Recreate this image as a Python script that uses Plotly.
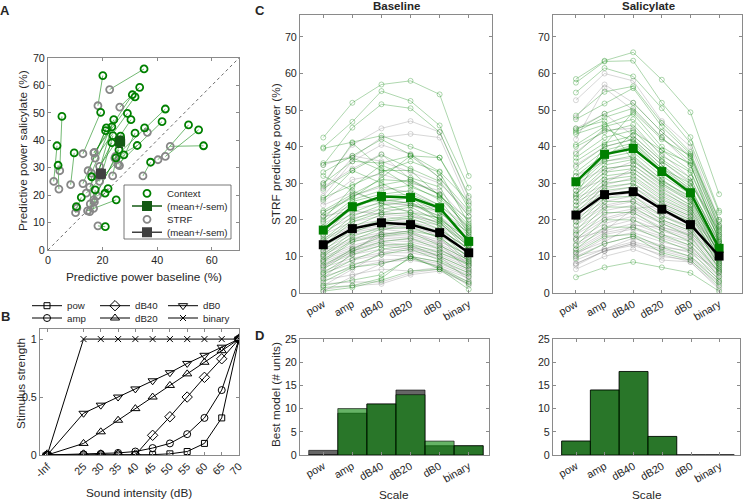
import math
import plotly.graph_objects as go

W, H = 745, 503
FONT = "Liberation Sans, Arial, Helvetica, sans-serif"
TXT = "#262626"
AXC = "#8a8a8a"
GREEN = "rgb(0,128,0)"

# ---------------- Panel A: predictive power baseline vs salicylate ----------------
ctx_base = [35.2, 20.1, 33.6, 30.9, 31.9, 5.1, 19.3, 29.1, 43.0, 30.4, 24.1, 41.8, 21.4,
            23.4, 21.1, 35.4, 51.5, 55.2, 23.8, 26.6, 31.9, 23.4, 57.0, 3.3, 32.7, 9.6,
            26.0, 27.8, 24.9, 3.7, 37.6, 16.0, 12.2, 17.3, 22.0, 20.9, 10.4, 25.0, 21.0]
ctx_sal = [66.0, 63.6, 59.3, 56.6, 55.8, 48.7, 50.2, 49.8, 51.4, 47.5, 47.5, 46.8, 44.5,
           44.9, 43.5, 44.5, 45.6, 43.8, 41.7, 41.5, 42.6, 39.1, 38.0, 38.0, 38.1, 35.4,
           36.5, 34.7, 33.6, 30.9, 32.0, 26.7, 19.2, 21.9, 22.4, 20.7, 15.8, 18.3, 8.5]
strf_base = [22.6, 18.3, 26.3, 17.0, 16.8, 4.3, 12.8, 17.3, 24.8, 18.9, 15.9, 25.6, 14.7,
             18.1, 12.8, 36.4, 40.3, 43.0, 18.9, 23.7, 26.2, 15.3, 44.8, 2.1, 24.5, 8.3,
             16.8, 14.0, 15.5, 4.0, 34.8, 15.3, 10.6, 16.7, 18.0, 17.0, 10.1, 14.5, 18.3]
strf_sal = [58.5, 52.6, 52.1, 35.6, 35.4, 28.9, 35.1, 33.5, 34.1, 30.5, 28.0, 31.2, 28.9,
            26.8, 24.2, 42.9, 32.9, 34.1, 25.0, 27.0, 30.8, 22.9, 37.8, 25.0, 33.5, 23.8,
            18.3, 20.7, 16.8, 22.2, 27.0, 14.0, 15.3, 15.2, 19.7, 17.5, 13.6, 14.3, 8.8]
ctx_mean = [26.4, 39.5]
ctx_sem = [1.6, 2.0]
strf_mean = [19.4, 27.8]
strf_sem = [1.4, 1.6]
A_lim = [0, 70]

# ---------------- Panel B: stimulus strength transforms ----------------
intensity_db = [-math.inf, 25, 30, 35, 40, 45, 50, 55, 60, 65, 70]
intensity_labels = ["-Inf", "25", "30", "35", "40", "45", "50", "55", "60", "65", "70"]
s_pow = [0, 0.00003, 0.0001, 0.0003, 0.001, 0.003, 0.01, 0.03, 0.10, 0.32, 1.0]
s_amp = [0, 0.006, 0.01, 0.018, 0.03, 0.06, 0.10, 0.18, 0.32, 0.56, 1.0]
s_db40 = [0, 0, 0, 0, 0, 0.17, 0.33, 0.50, 0.67, 0.83, 1.0]
s_db20 = [0, 0.10, 0.20, 0.30, 0.40, 0.50, 0.60, 0.70, 0.80, 0.90, 1.0]
s_db0 = [0, 0.36, 0.43, 0.50, 0.57, 0.64, 0.71, 0.79, 0.86, 0.93, 1.0]
s_binary = [0, 1, 1, 1, 1, 1, 1, 1, 1, 1, 1]
NEG_INF_AT = 14.5  # where -Inf is drawn on the dB axis

# ---------------- Panel C: per-unit predictive power by scale ----------------
scale_names = ["pow", "amp", "dB40", "dB20", "dB0", "binary"]

base_ctx = [
    [42.5, 52.0, 57.0, 58.0, 54.3, 32.0], [39.8, 46.8, 55.2, 52.5, 45.8, 28.8],
    [35.0, 45.2, 51.6, 50.5, 44.0, 26.5], [39.5, 41.2, 43.0, 40.0, 37.0, 24.0],
    [33.0, 37.5, 42.0, 37.8, 33.2, 25.0], [30.0, 36.0, 35.5, 37.5, 31.5, 22.5],
    [28.5, 33.5, 37.8, 34.0, 30.5, 21.0], [26.0, 29.5, 33.0, 36.0, 33.0, 19.0],
    [22.5, 27.0, 31.0, 30.5, 27.0, 18.5], [21.0, 26.5, 29.5, 31.0, 26.8, 17.5],
    [20.0, 29.0, 35.0, 31.5, 29.0, 16.0], [19.5, 25.5, 28.0, 29.5, 25.5, 15.5],
    [18.0, 25.0, 27.0, 28.0, 24.0, 17.0], [17.0, 23.0, 26.5, 27.0, 23.5, 14.5],
    [16.0, 22.0, 25.0, 26.0, 22.0, 16.5], [15.5, 24.0, 25.5, 24.5, 21.0, 13.0],
    [14.5, 21.0, 24.0, 25.0, 20.0, 12.5], [14.0, 20.0, 23.0, 24.0, 22.5, 14.0],
    [13.0, 19.5, 22.0, 23.5, 19.5, 11.5], [12.5, 18.0, 21.5, 22.0, 20.5, 13.5],
    [11.5, 17.5, 20.0, 21.0, 18.5, 10.5], [10.5, 16.5, 19.5, 20.5, 17.5, 12.0],
    [10.0, 15.5, 18.0, 19.5, 16.5, 9.5], [9.0, 14.5, 17.5, 18.0, 15.0, 10.0],
    [8.5, 14.0, 16.0, 17.0, 15.5, 8.5], [7.5, 12.0, 15.5, 16.5, 13.0, 9.0],
    [6.5, 11.5, 14.0, 15.0, 12.0, 7.5], [5.5, 10.5, 13.0, 13.5, 11.0, 8.0],
    [5.0, 9.0, 12.0, 13.0, 10.0, 6.5], [4.0, 7.5, 10.5, 12.0, 9.0, 5.5],
    [3.0, 7.0, 8.0, 10.0, 8.5, 4.5], [2.0, 3.5, 5.0, 9.5, 7.0, 3.0],
    [1.5, 2.0, 4.0, 10.0, 6.5, 2.5], [0.5, 1.5, 3.5, 6.0, 6.5, 1.0],
    [25.5, 33.5, 30.0, 26.0, 20.0, 15.0], [29.5, 41.0, 34.0, 29.0, 26.0, 18.0],
    [32.0, 28.0, 24.5, 22.0, 19.0, 13.0], [35.5, 37.0, 33.5, 33.5, 26.5, 20.0],
    [22.0, 26.0, 31.5, 37.5, 37.0, 23.0],
]
base_strf = [
    [30.0, 40.5, 45.0, 47.0, 44.0, 26.0], [28.0, 37.0, 42.5, 43.5, 42.5, 24.5],
    [26.5, 36.0, 40.5, 38.0, 31.5, 21.0], [25.0, 31.0, 32.5, 30.0, 28.0, 19.5],
    [22.0, 26.5, 29.0, 27.5, 24.0, 18.0], [20.5, 24.0, 26.0, 24.5, 23.0, 16.5],
    [19.0, 23.0, 24.5, 24.0, 21.0, 15.0], [18.0, 21.5, 23.0, 22.5, 20.5, 14.5],
    [17.0, 20.5, 22.0, 21.5, 19.0, 13.5], [16.0, 19.5, 21.0, 20.0, 18.5, 13.0],
    [15.0, 18.5, 20.0, 19.5, 17.5, 12.0], [14.5, 18.0, 19.5, 19.0, 17.0, 12.5],
    [13.5, 17.0, 18.5, 18.0, 16.0, 11.0], [13.0, 16.5, 18.0, 17.5, 15.5, 11.5],
    [12.0, 16.0, 17.5, 16.5, 14.5, 10.0], [11.5, 15.0, 16.5, 16.0, 14.0, 10.5],
    [11.0, 14.5, 16.0, 15.5, 13.5, 9.5], [10.5, 14.0, 15.5, 15.0, 13.0, 9.0],
    [10.0, 13.0, 15.0, 14.5, 12.5, 8.5], [9.5, 12.5, 14.5, 14.0, 12.0, 8.0],
    [9.0, 12.0, 14.0, 13.0, 11.5, 8.5], [8.5, 11.5, 13.5, 12.5, 11.0, 7.5],
    [8.0, 11.0, 13.0, 12.0, 10.5, 7.0], [7.5, 10.5, 12.0, 11.5, 10.0, 6.5],
    [7.0, 9.5, 11.0, 11.0, 9.5, 6.0], [6.0, 9.0, 10.5, 10.0, 8.5, 5.5],
    [5.5, 8.0, 9.0, 9.5, 8.0, 5.0], [4.5, 7.0, 8.5, 9.0, 7.5, 4.5],
    [3.5, 5.0, 6.5, 6.0, 7.0, 4.0], [2.5, 3.0, 3.0, 5.5, 6.5, 3.0],
    [1.0, 2.0, 2.5, 5.0, 6.0, 2.5], [35.0, 37.5, 36.0, 33.0, 30.0, 22.0],
    [29.0, 34.0, 38.0, 31.0, 27.0, 17.0], [24.0, 27.5, 25.0, 24.0, 22.0, 15.5],
    [21.0, 22.5, 21.5, 21.0, 19.5, 14.0], [7.0, 12.0, 16.0, 17.0, 13.5, 6.0],
    [4.0, 11.0, 17.0, 19.5, 15.0, 7.5], [2.0, 6.5, 11.0, 12.5, 10.0, 3.5],
    [0.5, 4.5, 8.0, 10.0, 7.0, 2.0],
]
sal_ctx = [
    [58.5, 63.5, 65.8, 58.3, 49.4, 27.0], [57.5, 63.3, 63.5, 52.0, 42.6, 22.5],
    [54.8, 61.5, 59.2, 50.5, 41.0, 22.0], [48.5, 55.0, 56.5, 46.5, 38.5, 19.5],
    [47.5, 51.8, 56.0, 45.5, 38.0, 18.5], [44.5, 49.0, 52.0, 44.0, 37.0, 17.5],
    [44.0, 48.0, 50.5, 42.5, 36.0, 18.0], [43.5, 46.0, 49.0, 40.0, 35.0, 16.5],
    [40.5, 45.5, 47.5, 39.0, 33.5, 15.5], [40.0, 44.0, 46.0, 37.5, 33.0, 16.0],
    [37.0, 42.5, 44.5, 36.5, 31.5, 14.5], [36.0, 41.0, 43.0, 36.0, 30.5, 15.0],
    [34.5, 40.0, 42.0, 35.0, 29.0, 13.5], [33.0, 39.0, 41.0, 34.0, 28.5, 14.0],
    [32.0, 38.0, 40.5, 33.5, 28.0, 12.5], [30.5, 37.0, 38.5, 32.0, 27.0, 13.0],
    [29.0, 36.0, 37.5, 31.0, 26.0, 11.5], [28.0, 35.0, 36.5, 30.0, 25.5, 12.0],
    [27.0, 34.0, 35.0, 29.5, 25.0, 10.5], [26.0, 33.0, 34.0, 28.5, 24.0, 11.0],
    [25.0, 32.0, 33.0, 27.5, 23.5, 9.5], [24.0, 31.0, 32.0, 26.5, 22.5, 10.0],
    [23.0, 30.0, 31.0, 25.5, 22.0, 8.5], [22.0, 29.0, 30.0, 24.5, 21.0, 9.0],
    [21.0, 28.0, 29.0, 23.5, 20.0, 7.5], [19.5, 27.0, 28.0, 22.5, 19.5, 8.0],
    [18.5, 26.0, 26.5, 21.0, 18.0, 6.5], [17.0, 25.0, 25.0, 20.0, 17.0, 7.0],
    [16.0, 23.5, 23.5, 19.0, 15.5, 5.5], [14.5, 22.0, 22.0, 17.5, 14.0, 6.0],
    [13.0, 20.0, 20.0, 16.0, 13.0, 4.5], [12.0, 18.0, 18.0, 14.5, 11.5, 3.5],
    [11.0, 15.5, 16.0, 12.5, 10.0, 3.0], [9.5, 13.5, 15.5, 11.0, 9.0, 2.0],
    [4.3, 7.0, 8.5, 7.0, 5.5, 0.5], [38.0, 45.0, 41.5, 34.0, 30.0, 17.0],
    [26.5, 40.5, 49.5, 42.0, 37.5, 20.0], [30.0, 36.5, 44.0, 39.0, 35.5, 14.0],
    [45.0, 47.0, 36.0, 30.5, 26.5, 10.0],
]
sal_strf = [
    [52.7, 60.0, 58.0, 47.0, 40.0, 20.0], [48.0, 57.0, 52.0, 44.0, 37.5, 18.5],
    [42.0, 56.0, 50.0, 42.5, 35.0, 17.0], [38.5, 44.5, 45.0, 38.0, 31.5, 16.0],
    [35.0, 40.0, 42.0, 35.0, 28.0, 15.5], [32.0, 36.0, 37.0, 31.0, 25.5, 14.0],
    [30.0, 34.0, 35.0, 29.0, 24.0, 13.5], [28.0, 31.0, 33.0, 27.0, 23.0, 13.0],
    [26.0, 29.5, 31.5, 26.0, 22.0, 12.5], [25.0, 28.5, 30.0, 25.0, 21.5, 12.0],
    [24.0, 27.5, 29.0, 24.5, 21.0, 11.5], [22.5, 27.0, 28.0, 23.5, 20.0, 11.0],
    [21.5, 26.0, 27.5, 23.0, 19.5, 10.5], [20.5, 25.0, 26.5, 22.0, 19.0, 10.0],
    [19.5, 24.0, 25.5, 21.5, 18.0, 10.5], [18.5, 23.5, 25.0, 21.0, 17.5, 9.5],
    [17.5, 22.5, 24.0, 20.0, 17.0, 9.0], [16.5, 21.5, 23.0, 19.5, 16.5, 9.5],
    [16.0, 20.5, 22.5, 19.0, 16.0, 8.5], [15.0, 20.0, 22.0, 18.0, 15.5, 8.0],
    [14.5, 19.0, 21.0, 17.5, 15.0, 7.5], [13.5, 18.0, 20.0, 17.0, 14.5, 7.0],
    [13.0, 17.0, 19.0, 16.0, 14.0, 6.5], [12.0, 16.5, 18.0, 15.5, 13.0, 6.0],
    [11.5, 16.0, 17.5, 15.0, 12.5, 5.5], [10.5, 15.0, 16.5, 14.0, 12.0, 5.0],
    [10.0, 13.5, 15.5, 13.0, 11.0, 4.5], [9.0, 12.0, 14.0, 12.0, 10.0, 4.0],
    [8.0, 11.5, 13.5, 11.5, 9.5, 3.0], [7.5, 11.5, 13.0, 10.5, 8.5, 1.5],
    [45.0, 49.0, 43.0, 36.0, 30.0, 18.0], [30.5, 38.0, 40.0, 33.0, 27.0, 14.5],
    [27.0, 33.0, 36.0, 30.0, 25.0, 13.0], [20.0, 30.0, 34.0, 28.0, 23.0, 11.0],
    [15.0, 17.0, 23.0, 24.0, 20.5, 12.0], [11.0, 14.0, 18.5, 18.0, 16.0, 8.0],
    [10.0, 12.0, 15.0, 12.5, 11.5, 6.0], [8.0, 11.5, 13.5, 10.0, 9.0, 2.5],
    [6.5, 10.0, 12.0, 9.0, 8.5, 1.0],
]
base_ctx_mean = [17.2, 23.6, 26.4, 26.1, 23.3, 14.1]
base_strf_mean = [13.2, 17.6, 19.2, 18.7, 16.5, 11.0]
sal_ctx_mean = [30.4, 37.9, 39.5, 33.2, 27.4, 12.2]
sal_strf_mean = [21.3, 26.9, 27.7, 22.9, 18.7, 10.1]
C_ylim = [0, 76]

# ---------------- Panel D: best model counts ----------------
base_best_strf = [1, 9, 11, 14, 2, 2]
base_best_ctx = [0, 10, 11, 13, 3, 2]
sal_best_strf = [3, 14, 18, 4, 0, 0]
sal_best_ctx = [3, 14, 18, 4, 0, 0]
D_ylim = [0, 25]


# ---------------- helpers ----------------
def xd(l, r):
    return [l / W, r / W]


def yd(t, b):
    return [1 - b / H, 1 - t / H]


def axis(dom, rng, **kw):
    d = dict(domain=dom, range=rng, showline=True, linecolor=AXC, linewidth=1,
             mirror="ticks", ticks="inside", ticklen=3, tickcolor=AXC, tickwidth=1,
             tickfont=dict(family=FONT, size=10.75, color=TXT), showgrid=False,
             zeroline=False, fixedrange=True, automargin=False)
    d.update(kw)
    return d


annotations = []


def text(t, px, py, size=11.8, bold=False, angle=0, xanchor="center", yanchor="middle"):
    annotations.append(dict(text=f"<b>{t}</b>" if bold else t, x=px / W, y=1 - py / H,
                            xref="paper", yref="paper", showarrow=False, textangle=angle,
                            xanchor=xanchor, yanchor=yanchor,
                            font=dict(family=FONT, size=size, color=TXT)))


fig = go.Figure()

# ---------- Panel A ----------
fig.add_trace(go.Scatter(x=A_lim, y=A_lim, mode="lines", line=dict(color="#444", width=0.8, dash="dot"),
                         xaxis="x", yaxis="y", showlegend=False, hoverinfo="skip"))
px_, py_ = [], []
for sb, ss, cb, cs in zip(strf_base, strf_sal, ctx_base, ctx_sal):
    px_ += [sb, cb, None]
    py_ += [ss, cs, None]
fig.add_trace(go.Scatter(x=px_, y=py_, mode="lines", line=dict(color="rgba(0,128,0,0.55)", width=1),
                         xaxis="x", yaxis="y", showlegend=False, hoverinfo="skip"))
fig.add_trace(go.Scatter(x=strf_base, y=strf_sal, mode="markers", name="STRF",
                         marker=dict(symbol="circle-open", size=7, color="rgb(135,135,135)", line=dict(width=1.8)),
                         xaxis="x", yaxis="y", legend="legend3"))
fig.add_trace(go.Scatter(x=ctx_base, y=ctx_sal, mode="markers", name="Context",
                         marker=dict(symbol="circle-open", size=7, color=GREEN, line=dict(width=1.8)),
                         xaxis="x", yaxis="y", legend="legend"))
fig.add_trace(go.Scatter(x=[ctx_mean[0]], y=[ctx_mean[1]], mode="lines+markers", name="(mean+/-sem)",
                         marker=dict(symbol="square", size=10, color="rgb(20,90,20)"),
                         line=dict(color="rgb(20,90,20)", width=1.5),
                         error_x=dict(type="data", array=[ctx_sem[0]], color="rgb(20,90,20)", thickness=1.5, width=3),
                         error_y=dict(type="data", array=[ctx_sem[1]], color="rgb(20,90,20)", thickness=1.5, width=3),
                         xaxis="x", yaxis="y", legend="legend2"))
fig.add_trace(go.Scatter(x=[strf_mean[0]], y=[strf_mean[1]], mode="lines+markers", name="(mean+/-sem)",
                         marker=dict(symbol="square", size=10, color="rgb(64,64,64)"),
                         line=dict(color="rgb(64,64,64)", width=1.5),
                         error_x=dict(type="data", array=[strf_sem[0]], color="rgb(64,64,64)", thickness=1.5, width=3),
                         error_y=dict(type="data", array=[strf_sem[1]], color="rgb(64,64,64)", thickness=1.5, width=3),
                         xaxis="x", yaxis="y", legend="legend4"))

# ---------- Panel B ----------
xb = [NEG_INF_AT if math.isinf(v) else v for v in intensity_db]
b_series = [
    ("pow", s_pow, "square-open", 6, "legend5"),
    ("dB40", s_db40, "diamond-open", 8, "legend5"),
    ("dB0", s_db0, "triangle-down-open", 8, "legend5"),
    ("amp", s_amp, "circle-open", 7, "legend6"),
    ("dB20", s_db20, "triangle-up-open", 8, "legend6"),
    ("binary", s_binary, "x-thin-open", 6, "legend6"),
]
for name, ys, sym, sz, lg in b_series:
    fig.add_trace(go.Scatter(x=xb, y=ys, mode="lines+markers", name=name,
                             line=dict(color="black", width=1),
                             marker=dict(symbol=sym, size=sz, color="black", line=dict(width=1)),
                             xaxis="x2", yaxis="y2", legend=lg))


# ---------- Panel C ----------
def spaghetti(rows, color, xa, ya):
    xs, ys = [], []
    for r in rows:
        xs += scale_names + [None]
        ys += list(r) + [None]
    return go.Scatter(x=xs, y=ys, mode="lines+markers", line=dict(color=color, width=0.8),
                      marker=dict(symbol="circle-open", size=5, color=color, line=dict(width=0.8)),
                      xaxis=xa, yaxis=ya, showlegend=False, hoverinfo="skip")


def mean_line(vals, color, xa, ya):
    return go.Scatter(x=scale_names, y=vals, mode="lines+markers", line=dict(color=color, width=2.5),
                      marker=dict(symbol="square", size=9, color=color),
                      xaxis=xa, yaxis=ya, showlegend=False)


GRAYL = "rgba(128,128,128,0.4)"
GREENL = "rgba(0,128,0,0.4)"
for rows_s, rows_c, means_c, means_s, xa, ya in [
    (base_strf, base_ctx, base_ctx_mean, base_strf_mean, "x3", "y3"),
    (sal_strf, sal_ctx, sal_ctx_mean, sal_strf_mean, "x4", "y4"),
]:
    fig.add_trace(spaghetti(rows_s, GRAYL, xa, ya))
    fig.add_trace(spaghetti(rows_c, GREENL, xa, ya))
    fig.add_trace(mean_line(means_c, GREEN, xa, ya))
    fig.add_trace(mean_line(means_s, "black", xa, ya))

# ---------- Panel D ----------
for strf_c, ctx_c, xa, ya in [(base_best_strf, base_best_ctx, "x5", "y5"),
                              (sal_best_strf, sal_best_ctx, "x6", "y6")]:
    fig.add_trace(go.Bar(x=scale_names, y=strf_c, width=1, name="STRF",
                         marker=dict(color="rgba(0,0,0,0.6)", line=dict(color="rgba(0,0,0,0.6)", width=1)),
                         xaxis=xa, yaxis=ya, showlegend=False))
    fig.add_trace(go.Bar(x=scale_names, y=ctx_c, width=1, name="Context",
                         marker=dict(color="rgba(0,128,0,0.6)", line=dict(color="rgba(0,0,0,0.6)", width=1)),
                         xaxis=xa, yaxis=ya, showlegend=False))

# ---------- text ----------
text("A", 5, 10, size=13, bold=True)
text("B", 5, 316, size=13, bold=True)
text("C", 260, 10, size=13, bold=True)
text("D", 259, 335, size=13, bold=True)
text("Baseline", 396, 6, size=11.5, bold=True)
text("Salicylate", 648, 6, size=11.5, bold=True)
text("Predictive power baseline (%)", 144, 277)
text("Predictive power salicylate (%)", 23, 151, angle=-90)
text("Stimulus strength", 21, 384, angle=-90)
text("Sound intensity (dB)", 139, 493)
text("STRF predictive power (%)", 276, 154, angle=-90)
text("Best model (# units)", 276, 395, angle=-90)
text("Scale", 394, 495)
text("Scale", 647, 495)

leg_common = dict(bgcolor="rgba(0,0,0,0)", borderwidth=0, font=dict(family=FONT, size=9.7, color=TXT),
                  xanchor="left", yanchor="middle", itemclick=False, itemdoubleclick=False)
layout = dict(
    template="none",
    width=W, height=H, margin=dict(l=0, r=0, t=0, b=0, autoexpand=False),
    paper_bgcolor="white", plot_bgcolor="white", barmode="overlay",
    font=dict(family=FONT, color=TXT, size=10.75),
    xaxis=axis(xd(48, 239), A_lim, anchor="y", tickvals=[0, 20, 40, 60]),
    yaxis=axis(yd(58, 250), A_lim, anchor="x", tickvals=list(range(0, 71, 10))),
    xaxis2=axis(xd(40, 239), [12.4, 70], anchor="y2", tickvals=xb, ticktext=intensity_labels, tickangle=-45),
    yaxis2=axis(yd(329, 455), [0, 1.087], anchor="x2", tickvals=[0, 0.5, 1], ticktext=["0", "0.5", "1"]),
    xaxis3=axis(xd(300, 492), [-0.8, 5.8], anchor="y3", type="category", categoryarray=scale_names, tickangle=-30),
    yaxis3=axis(yd(15, 293), C_ylim, anchor="x3", tickvals=list(range(0, 71, 10))),
    xaxis4=axis(xd(553, 742), [-0.8, 5.8], anchor="y4", type="category", categoryarray=scale_names, tickangle=-30),
    yaxis4=axis(yd(15, 293), C_ylim, anchor="x4", tickvals=list(range(0, 71, 10))),
    xaxis5=axis(xd(300, 489), [-0.8, 5.7], anchor="y5", type="category", categoryarray=scale_names, tickangle=-30),
    yaxis5=axis(yd(339, 455), D_ylim, anchor="x5", tickvals=list(range(0, 26, 5))),
    xaxis6=axis(xd(553, 740), [-0.8, 5.7], anchor="y6", type="category", categoryarray=scale_names, tickangle=-30),
    yaxis6=axis(yd(339, 455), D_ylim, anchor="x6", tickvals=list(range(0, 26, 5))),
    legend=dict(x=127 / W, y=1 - 193.3 / H, **leg_common),
    legend2=dict(x=127 / W, y=1 - 206 / H, **leg_common),
    legend3=dict(x=127 / W, y=1 - 219.3 / H, **leg_common),
    legend4=dict(x=127 / W, y=1 - 232.3 / H, **leg_common),
    legend5=dict(x=27 / W, y=1 - 305.7 / H, orientation="h", entrywidth=23, entrywidthmode="pixels", **leg_common),
    legend6=dict(x=27 / W, y=1 - 318 / H, orientation="h", entrywidth=23, entrywidthmode="pixels", **leg_common),
    annotations=annotations,
    shapes=[dict(type="rect", xref="paper", yref="paper", x0=124 / W, x1=231 / W,
                 y0=1 - 239 / H, y1=1 - 185 / H, line=dict(color="#555", width=0.8), fillcolor="rgba(0,0,0,0)")],
)
fig.update_layout(**layout)
# the page body has a default 8px margin; remove it so the figure fills the window exactly
fig.write_html("out.html", config={"displayModeBar": False, "staticPlot": True},
               post_script="document.body.style.margin='0px';")
